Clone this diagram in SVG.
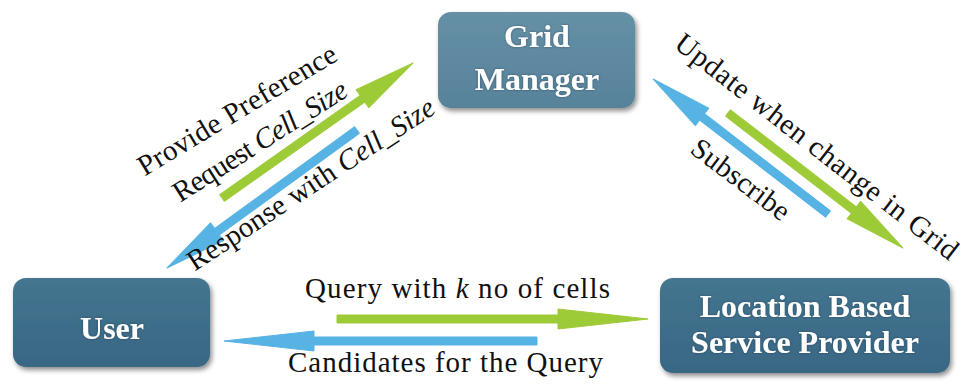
<svg xmlns="http://www.w3.org/2000/svg" width="965" height="386" viewBox="0 0 965 386">
<defs>
<linearGradient id="gLight" x1="0" y1="0" x2="0" y2="1">
<stop offset="0" stop-color="#6590a6"/><stop offset="1" stop-color="#57829a"/>
</linearGradient>
<linearGradient id="gDark" x1="0" y1="0" x2="0" y2="1">
<stop offset="0" stop-color="#44758f"/><stop offset="1" stop-color="#386784"/>
</linearGradient>
<filter id="sh" x="-10%" y="-10%" width="125%" height="130%">
<feDropShadow dx="2" dy="3" stdDeviation="2.5" flood-color="#000" flood-opacity="0.45"/>
</filter>
<filter id="tsh" x="-10%" y="-20%" width="120%" height="140%">
<feDropShadow dx="0" dy="0" stdDeviation="1.2" flood-color="#1c3342" flood-opacity="0.6"/>
</filter>
</defs>
<style>
.box{stroke:none;filter:url(#sh)}
.bt{font-family:"Liberation Serif",serif;font-weight:bold;font-size:32px;fill:#ffffff;text-anchor:middle;filter:url(#tsh)}
.lb{font-family:"Liberation Serif",serif;font-size:29px;fill:#111111}
.it{font-style:italic}
.green{fill:#9dcb38;stroke:#9dcb38;stroke-width:1;stroke-linejoin:round}
.blue{fill:#56b3e4;stroke:#56b3e4;stroke-width:1;stroke-linejoin:round}
</style>
<rect width="965" height="386" fill="#ffffff"/>

<g id="connectors">
<path class="green" transform="translate(222,198) rotate(-35.26)" d="M0,-4 H172 V-11 L234,0 L172,11 V4 H0 Z"/>
<path class="blue" transform="translate(357,130) rotate(144)" d="M0,-4 H173 V-11 L235,0 L173,11 V4 H0 Z"/>
<path class="blue" transform="translate(828,214) rotate(-142.35)" d="M0,-4 H159 V-11 L221,0 L159,11 V4 H0 Z"/>
<path class="green" transform="translate(728,113) rotate(37.65)" d="M0,-4 H159 V-11 L221,0 L159,11 V4 H0 Z"/>
<path class="green" transform="translate(337,319)" d="M0,-4 H221 V-10 L311,0 L221,10 V4 H0 Z"/>
<path class="blue" transform="translate(537,341) rotate(180)" d="M0,-4 H223 V-10 L313,0 L223,10 V4 H0 Z"/>

<text class="lb" transform="translate(242,118) rotate(-31)" text-anchor="middle" textLength="227" lengthAdjust="spacing">Provide Preference</text>
<text class="lb" transform="translate(265,149) rotate(-32.4)" text-anchor="middle" font-size="28" textLength="201" lengthAdjust="spacing">Request <tspan class="it">Cell_Size</tspan></text>
<text class="lb" transform="translate(316,192) rotate(-33.3)" text-anchor="middle" textLength="290" lengthAdjust="spacing">Response with <tspan class="it">Cell_Size</tspan></text>
<text class="lb" transform="translate(811,154) rotate(37.8)" text-anchor="middle" textLength="350" lengthAdjust="spacing">Update when change in Grid</text>
<text class="lb" transform="translate(735,187) rotate(37)" text-anchor="middle" textLength="116" lengthAdjust="spacing">Subscribe</text>
<text class="lb" x="305" y="298" textLength="305" lengthAdjust="spacing">Query with <tspan class="it">k</tspan> no of cells</text>
<text class="lb" x="288" y="372" textLength="315" lengthAdjust="spacing">Candidates for the Query</text>
</g>

<g id="grid-manager">
<rect class="box" x="438" y="12" width="197" height="96" rx="13" fill="url(#gLight)"/>
<text class="bt" x="537" y="47">Grid</text>
<text class="bt" x="537" y="90">Manager</text>
</g>

<g id="user">
<rect class="box" x="13" y="278" width="197" height="89" rx="13" fill="url(#gDark)"/>
<text class="bt" x="112" y="339" font-size="31">User</text>
</g>

<g id="lbsp">
<rect class="box" x="660" y="278" width="290" height="95" rx="13" fill="url(#gDark)"/>
<text class="bt" x="805" y="317">Location Based</text>
<text class="bt" x="805" y="353">Service Provider</text>
</g>
</svg>
